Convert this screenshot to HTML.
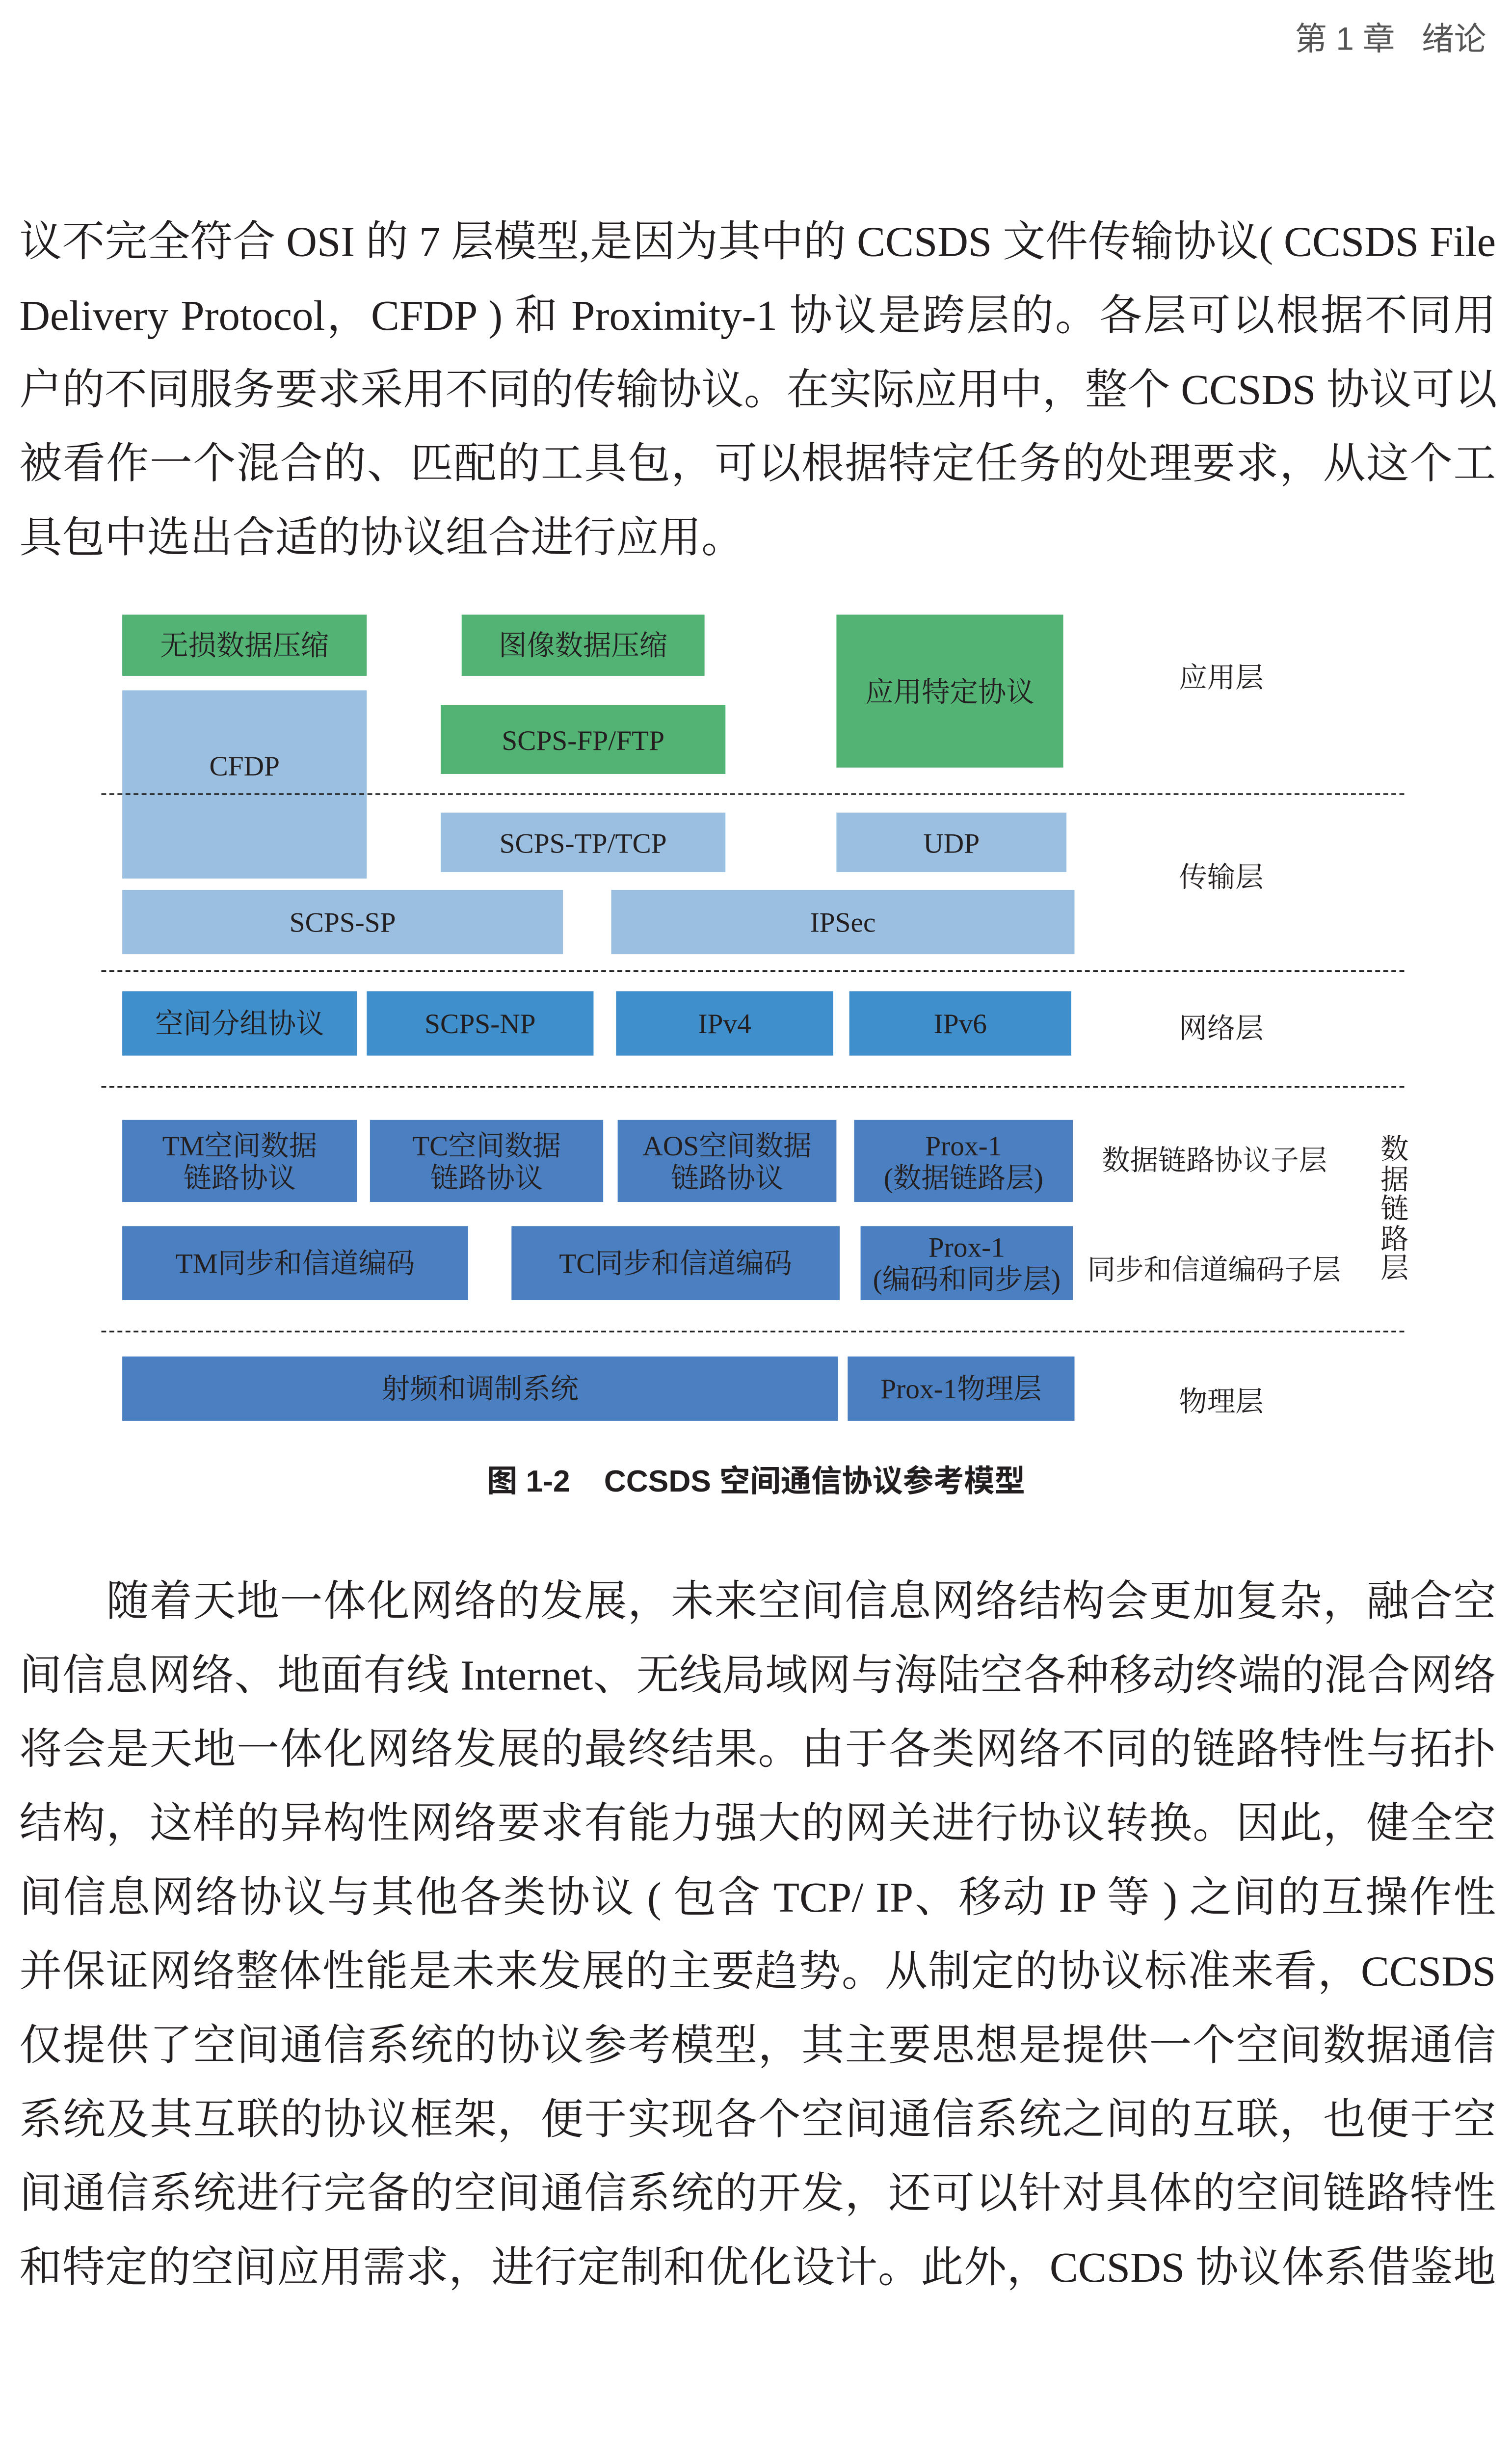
<!DOCTYPE html>
<html><head><meta charset="utf-8"><style>
html,body{margin:0;padding:0;background:#fff;overflow:hidden;}
body{width:3081px;height:5121px;overflow:hidden;position:relative;}
#w{position:absolute;left:0;top:0;width:940px;height:1560px;overflow:hidden;transform:scale(3.2777,3.2785);transform-origin:0 0;font-family:"Liberation Serif","Noto Serif CJK SC",serif;color:#231f20;}
.l{position:absolute;left:12px;width:918px;height:46px;line-height:46px;font-size:26.5px;white-space:nowrap;text-align:justify;text-align-last:justify;}
.n{text-align-last:left;}
.b{position:absolute;display:flex;align-items:center;justify-content:center;text-align:center;font-size:17.5px;line-height:20px;color:#231f20;}
.g{background:#53b374}.lb{background:#9bbfe0}.nb{background:#3f8fcc}.db{background:#4a7fc1}
.d{position:absolute;left:63px;width:810px;border-top:1.6px dashed #222;height:0}
.t{position:absolute;font-size:17.5px;line-height:20px;white-space:nowrap;}
</style></head><body><div id="w">
<div style="position:absolute;left:805px;top:8px;font-size:20px;color:#555;font-family:'Liberation Sans','Noto Sans CJK SC',sans-serif;white-space:nowrap">第 1 章&nbsp;&nbsp;&nbsp;绪论</div>

<div class="l" style="top:127px">议不完全符合 OSI 的 7 层模型,是因为其中的 CCSDS 文件传输协议( CCSDS File</div>
<div class="l" style="top:173px">Delivery Protocol，CFDP ) 和 Proximity-1 协议是跨层的。各层可以根据不同用</div>
<div class="l" style="top:219px">户的不同服务要求采用不同的传输协议。在实际应用中，整个 CCSDS 协议可以</div>
<div class="l" style="top:265px">被看作一个混合的、匹配的工具包，可以根据特定任务的处理要求，从这个工</div>
<div class="l n" style="top:311px">具包中选出合适的协议组合进行应用。</div>

<div class="b g" style="left:76px;top:382px;width:152px;height:38px">无损数据压缩</div>
<div class="b g" style="left:287px;top:382px;width:151px;height:38px">图像数据压缩</div>
<div class="b g" style="left:520px;top:382px;width:141px;height:95px">应用特定协议</div>
<div class="b g" style="left:274px;top:438px;width:177px;height:43px">SCPS-FP/FTP</div>
<div class="b lb" style="left:76px;top:429px;width:152px;height:117px;align-items:flex-start;padding-top:37px;box-sizing:border-box">CFDP</div>
<div class="t" style="left:733px;top:411px">应用层</div>
<div class="d" style="top:493px"></div>
<div class="b lb" style="left:274px;top:505px;width:177px;height:37px">SCPS-TP/TCP</div>
<div class="b lb" style="left:520px;top:505px;width:143px;height:37px">UDP</div>
<div class="b lb" style="left:76px;top:553px;width:274px;height:40px">SCPS-SP</div>
<div class="b lb" style="left:380px;top:553px;width:288px;height:40px">IPSec</div>
<div class="t" style="left:733px;top:535px">传输层</div>
<div class="d" style="top:603px"></div>
<div class="b nb" style="left:76px;top:616px;width:146px;height:40px">空间分组协议</div>
<div class="b nb" style="left:228px;top:616px;width:141px;height:40px">SCPS-NP</div>
<div class="b nb" style="left:383px;top:616px;width:135px;height:40px">IPv4</div>
<div class="b nb" style="left:528px;top:616px;width:138px;height:40px">IPv6</div>
<div class="t" style="left:733px;top:629px">网络层</div>
<div class="d" style="top:675px"></div>
<div class="b db" style="left:76px;top:696px;width:146px;height:51px">TM空间数据<br>链路协议</div>
<div class="b db" style="left:230px;top:696px;width:145px;height:51px">TC空间数据<br>链路协议</div>
<div class="b db" style="left:384px;top:696px;width:136px;height:51px">AOS空间数据<br>链路协议</div>
<div class="b db" style="left:531px;top:696px;width:136px;height:51px">Prox-1<br>(数据链路层)</div>
<div class="b db" style="left:76px;top:762px;width:215px;height:46px">TM同步和信道编码</div>
<div class="b db" style="left:318px;top:762px;width:204px;height:46px">TC同步和信道编码</div>
<div class="b db" style="left:535px;top:762px;width:132px;height:46px">Prox-1<br>(编码和同步层)</div>
<div class="t" style="left:685px;top:711px">数据链路协议子层</div>
<div class="t" style="left:676px;top:779px">同步和信道编码子层</div>
<div class="t" style="left:858px;top:705px;width:18px;white-space:normal;line-height:18.5px;text-align:center">数据链路层</div>
<div class="d" style="top:827px"></div>
<div class="b db" style="left:76px;top:843px;width:445px;height:40px">射频和调制系统</div>
<div class="b db" style="left:527px;top:843px;width:141px;height:40px">Prox-1物理层</div>
<div class="t" style="left:733px;top:861px">物理层</div>

<div style="position:absolute;left:0;width:940px;top:906px;text-align:center;font-size:19px;font-weight:bold;font-family:'Liberation Sans','Noto Sans CJK SC',sans-serif;white-space:pre">图 1-2    CCSDS 空间通信协议参考模型</div>

<div class="l" style="top:972px;left:66px;width:864px">随着天地一体化网络的发展，未来空间信息网络结构会更加复杂，融合空</div>
<div class="l" style="top:1018px">间信息网络、地面有线 Internet、无线局域网与海陆空各种移动终端的混合网络</div>
<div class="l" style="top:1064px">将会是天地一体化网络发展的最终结果。由于各类网络不同的链路特性与拓扑</div>
<div class="l" style="top:1110px">结构，这样的异构性网络要求有能力强大的网关进行协议转换。因此，健全空</div>
<div class="l" style="top:1156px">间信息网络协议与其他各类协议 ( 包含 TCP/ IP、移动 IP 等 ) 之间的互操作性</div>
<div class="l" style="top:1202px">并保证网络整体性能是未来发展的主要趋势。从制定的协议标准来看，CCSDS</div>
<div class="l" style="top:1248px">仅提供了空间通信系统的协议参考模型，其主要思想是提供一个空间数据通信</div>
<div class="l" style="top:1294px">系统及其互联的协议框架，便于实现各个空间通信系统之间的互联，也便于空</div>
<div class="l" style="top:1340px">间通信系统进行完备的空间通信系统的开发，还可以针对具体的空间链路特性</div>
<div class="l" style="top:1386px">和特定的空间应用需求，进行定制和优化设计。此外，CCSDS 协议体系借鉴地</div>

<div style="position:absolute;left:903px;top:1530px;font-size:22px;line-height:26px;color:#444">09</div>
</div></body></html>
